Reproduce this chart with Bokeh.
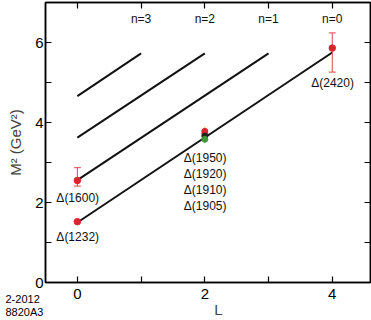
from bokeh.plotting import figure
from bokeh.models import Range1d, LinearAxis, FixedTicker, Label, Whisker, ColumnDataSource, TeeHead, Title
from bokeh.embed import file_html
from bokeh.resources import INLINE

FONT = "Liberation Sans"

# Regge trajectories (n = radial excitation): start/end points
traj_n = ["n=0", "n=1", "n=2", "n=3"]
traj_L_start = [0, 0, 0, 0]
traj_L_end = [4, 3, 2, 1]
traj_M2_start = [1.50, 2.56, 3.62, 4.66]
traj_M2_end = [5.75, 5.73, 5.73, 5.73]

# measured resonances
res_names = ["Δ(1232)", "Δ(1600)", "Δ(2420)"]
res_L = [0, 0, 4]
res_M2 = [1.52, 2.55, 5.86]
res_lo = [1.52, 2.41, 5.26]
res_hi = [1.52, 2.87, 6.24]

# L = 2 cluster
cl_names = ["Δ(1950)", "Δ(1920)", "Δ(1910)", "Δ(1905)"]
cl_L = [2, 2, 2, 2]
cl_M2 = [3.78, 3.72, 3.66, 3.58]
cl_lo = [3.70, 3.66, 3.62, 3.50]
cl_hi = [3.88, 3.78, 3.70, 3.66]
cl_colors = ["#d8262e", "#d8262e", "#222222", "#3f9a3a"]
cl_err_colors = ["#f2c200", "#d8262e", "#222222", "#3f9a3a"]

x_ticks = [0, 1, 2, 3, 4]
x_tick_labels = {0: "0", 1: "", 2: "2", 3: "", 4: "4"}
y_ticks = [0, 1, 2, 3, 4, 5, 6, 7]
y_tick_labels = {0: "0", 1: "", 2: "2", 3: "", 4: "4", 5: "", 6: "6", 7: ""}
footer_lines = ["2-2012", "8820A3"]

p = figure(width=371, height=320, output_backend="svg", toolbar_location=None,
           x_range=Range1d(-0.5, 4.6), y_range=Range1d(0, 7),
           min_border_left=45, min_border_right=1, min_border_top=2, min_border_bottom=38)
p.grid.visible = False
p.outline_line_color = "black"
p.outline_line_width = 1.5
p.background_fill_color = "white"

def style_axis(ax, ticks, labels, show_labels=True):
    ax.ticker = FixedTicker(ticks=ticks)
    ax.major_label_overrides = labels
    ax.major_tick_in = 6
    ax.major_tick_out = 0
    ax.minor_tick_in = 0
    ax.minor_tick_out = 0
    ax.axis_line_color = "black"
    ax.axis_line_width = 1.5
    ax.major_tick_line_width = 1.2
    ax.major_label_text_font = FONT
    ax.major_label_text_color = "black"
    if show_labels:
        ax.major_label_text_font_size = "15px"
    else:
        ax.major_label_text_font_size = "0px"
        ax.major_label_standoff = 0

style_axis(p.xaxis[0], x_ticks, x_tick_labels)
p.xaxis[0].major_label_standoff = 6
p.xaxis[0].axis_label = "\u00a0\u00a0\u00a0\u00a0\u00a0L"
p.xaxis[0].axis_label_text_font = FONT
p.xaxis[0].axis_label_text_font_style = "normal"
p.xaxis[0].axis_label_text_font_size = "15px"
p.xaxis[0].axis_label_standoff = -1
style_axis(p.yaxis[0], y_ticks, y_tick_labels)
p.yaxis[0].major_label_standoff = 2
p.yaxis[0].axis_label = "M² (GeV²)"
p.yaxis[0].axis_label_text_font = FONT
p.yaxis[0].axis_label_text_font_style = "normal"
p.yaxis[0].axis_label_text_font_size = "15px"
p.yaxis[0].axis_label_standoff = 8

top = LinearAxis()
style_axis(top, x_ticks, {t: "" for t in x_ticks}, show_labels=False)
p.add_layout(top, "above")
right = LinearAxis()
style_axis(right, y_ticks, {t: "" for t in y_ticks}, show_labels=False)
p.add_layout(right, "right")

p.segment(x0=traj_L_start, y0=traj_M2_start, x1=traj_L_end, y1=traj_M2_end,
          line_color="#111111", line_width=2)

# error bars
src_r = ColumnDataSource(dict(x=res_L, lo=res_lo, hi=res_hi))
p.segment(x0="x", y0="lo", x1="x", y1="hi", line_color="#e0454b", line_width=1, source=src_r)
p.add_layout(Whisker(source=src_r, base="x", lower="lo", upper="hi", dimension="height",
                     line_alpha=0,
                     upper_head=TeeHead(size=7, line_color="#e0454b", line_width=1),
                     lower_head=TeeHead(size=7, line_color="#e0454b", line_width=1)))
src_c = ColumnDataSource(dict(x=cl_L, lo=cl_lo, hi=cl_hi, c=cl_err_colors))
p.segment(x0="x", y0="lo", x1="x", y1="hi", line_color="c", line_width=1.2, source=src_c)

p.scatter(cl_L, cl_M2, size=6, color=cl_colors)
p.scatter(res_L, res_M2, size=6.5, color="#d8262e")

# labels
lab_x = [0, 0, 4] + [2, 2, 2, 2]
lab_y = [1.15, 2.11, 5.0] + [3.12, 2.72, 2.32, 1.92]
for name, x, y in zip(res_names + cl_names, lab_x, lab_y):
    p.add_layout(Label(x=x, y=y, x_offset=-21, text=name, text_font=FONT,
                       text_font_size="12px", text_baseline="middle", text_align="left",
                       text_color="#111111"))

n_label_L = [4, 3, 2, 1]
for name, x in zip(traj_n, n_label_L):
    p.add_layout(Label(x=x, y=6.6, text=name, text_font=FONT, text_font_size="12px",
                       text_baseline="middle", text_align="center", text_color="#111111"))

p.add_layout(Title(text="\n".join(footer_lines), align="left", offset=-40, standoff=-56,
                   vertical_align="top", text_font=FONT, text_font_size="11px",
                   text_font_style="normal", text_color="black", text_line_height=1.1), "below")

open("out.html", "w").write(file_html(p, INLINE))
